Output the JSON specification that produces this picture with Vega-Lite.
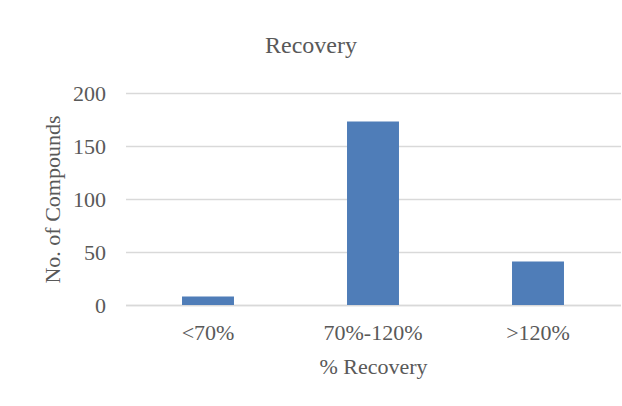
{
  "$schema": "https://vega.github.io/schema/vega-lite/v6.json",
  "width": 495,
  "height": 212,
  "autosize": {"type": "none"},
  "padding": {"left": 125.5, "top": 93, "right": 1.5, "bottom": 101},
  "background": "white",
  "title": {
    "text": "Recovery",
    "font": "Liberation Serif",
    "fontSize": 24,
    "fontWeight": "normal",
    "color": "#595959",
    "anchor": "middle",
    "dx": -62,
    "offset": 24
  },
  "data": {
    "values": [
      {"range": "<70%", "count": 8},
      {"range": "70%-120%", "count": 173},
      {"range": ">120%", "count": 41}
    ]
  },
  "mark": {"type": "bar", "color": "#4F7DB8"},
  "encoding": {
    "x": {
      "field": "range",
      "type": "nominal",
      "sort": null,
      "scale": {"paddingInner": 0.685, "paddingOuter": 0.3425},
      "axis": {
        "title": "% Recovery",
        "labelAngle": 0,
        "ticks": false,
        "domain": true,
        "domainColor": "#D9D9D9",
        "domainWidth": 1.3,
        "labelPadding": 17,
        "titlePadding": 13,
        "labelFont": "Liberation Serif",
        "labelFontSize": 22,
        "labelColor": "#595959",
        "titleFont": "Liberation Serif",
        "titleFontSize": 22,
        "titleFontWeight": "normal",
        "titleColor": "#595959"
      }
    },
    "y": {
      "field": "count",
      "type": "quantitative",
      "scale": {"domain": [0, 200], "nice": false},
      "axis": {
        "title": "No. of Compounds",
        "values": [0, 50, 100, 150, 200],
        "ticks": false,
        "domain": false,
        "grid": true,
        "gridColor": "#D9D9D9",
        "gridWidth": 1.3,
        "labelPadding": 20,
        "titlePadding": 8,
        "labelFont": "Liberation Serif",
        "labelFontSize": 22,
        "labelColor": "#595959",
        "titleFont": "Liberation Serif",
        "titleFontSize": 22,
        "titleFontWeight": "normal",
        "titleColor": "#595959"
      }
    }
  },
  "config": {"view": {"stroke": null}}
}
